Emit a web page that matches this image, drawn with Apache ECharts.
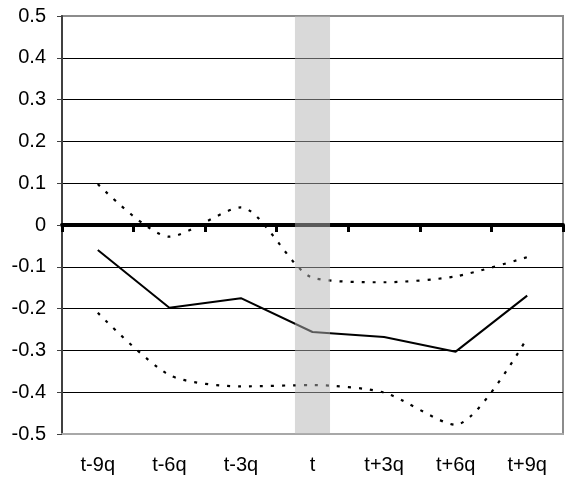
<!DOCTYPE html>
<html>
<head>
<meta charset="utf-8">
<script src="https://cdn.jsdelivr.net/npm/echarts@6/dist/echarts.min.js"></script>
<style>
  html, body { margin: 0; padding: 0; background: #fff; }
  #chart { width: 565px; height: 481px; }
</style>
</head>
<body>
<div id="chart"></div>
<script>
// Event window in quarters around t
const categories = ['t-9q', 't-6q', 't-3q', 't', 't+3q', 't+6q', 't+9q'];
// Point estimate and upper / lower bands
const estimate = [-0.06, -0.198, -0.175, -0.256, -0.268, -0.303, -0.169];
const upperBand = [0.098, -0.028, 0.042, -0.126, -0.137, -0.123, -0.077];
const lowerBand = [-0.21, -0.359, -0.386, -0.383, -0.401, -0.478, -0.27];
// Highlighted event quarter
const eventQuarter = 't';
const yTicks = [-0.5, -0.4, -0.3, -0.2, -0.1, 0, 0.1, 0.2, 0.3, 0.4, 0.5];

const font = 'Liberation Sans, Arial, sans-serif';
const bandUp = categories.map(c => (c === eventQuarter ? yTicks[yTicks.length - 1] : null));
const bandDown = categories.map(c => (c === eventQuarter ? yTicks[0] : null));

// interior grid lines black, outer edges come from the grid border
const splitColors = yTicks.map((v, i) => (i === 0 || i === yTicks.length - 1) ? 'rgba(0,0,0,0)' : '#000');

const chart = echarts.init(document.getElementById('chart'));
chart.setOption({
  animation: false,
  backgroundColor: '#fff',
  grid: {
    left: 62, right: 2, top: 16, bottom: 47,
    show: true, borderColor: '#8c8c8c', borderWidth: 2, backgroundColor: 'transparent'
  },
  xAxis: [
    {
      type: 'category',
      data: categories,
      position: 'bottom',
      axisLine: { onZero: false, lineStyle: { color: '#a8a8a8', width: 2 } },
      axisTick: { show: false },
      axisLabel: { color: '#000', fontFamily: font, fontSize: 20, margin: 21 },
      splitLine: { show: false }
    },
    {
      type: 'category',
      data: categories,
      position: 'bottom',
      axisLine: { onZero: true, lineStyle: { color: '#000', width: 4 } },
      axisTick: { show: true, length: 7, lineStyle: { color: '#000', width: 3 } },
      axisLabel: { show: false },
      splitLine: { show: false }
    }
  ],
  yAxis: {
    type: 'value',
    min: -0.5, max: 0.5, interval: 0.1,
    axisLine: { show: true, onZero: false, lineStyle: { color: '#404040', width: 2 } },
    axisTick: { show: true, length: 5, lineStyle: { color: '#404040', width: 1 } },
    axisLabel: {
      color: '#000', fontFamily: font, fontSize: 20, margin: 16,
      formatter: v => (Math.abs(v) < 1e-9 ? '0' : (+v.toFixed(1)).toString())
    },
    splitLine: { show: true, lineStyle: { color: splitColors, width: 1 } }
  },
  series: [
    {
      type: 'line',
      data: lowerBand,
      smooth: 0.25,
      symbol: 'none',
      lineStyle: { color: '#000', width: 2.2, type: [3, 8] },
      z: 3
    },
    {
      type: 'line',
      data: upperBand,
      smooth: 0.25,
      symbol: 'none',
      lineStyle: { color: '#000', width: 2.2, type: [3, 8] },
      z: 3
    },
    {
      type: 'line',
      data: estimate,
      symbol: 'none',
      lineStyle: { color: '#000', width: 2 },
      z: 3
    },
    {
      type: 'bar',
      data: bandUp,
      barWidth: '49%',
      barGap: '-100%',
      itemStyle: { color: 'rgba(180,180,180,0.5)' },
      z: 6
    },
    {
      type: 'bar',
      data: bandDown,
      barWidth: '49%',
      barGap: '-100%',
      itemStyle: { color: 'rgba(180,180,180,0.5)' },
      z: 6
    }
  ]
});
</script>
</body>
</html>
